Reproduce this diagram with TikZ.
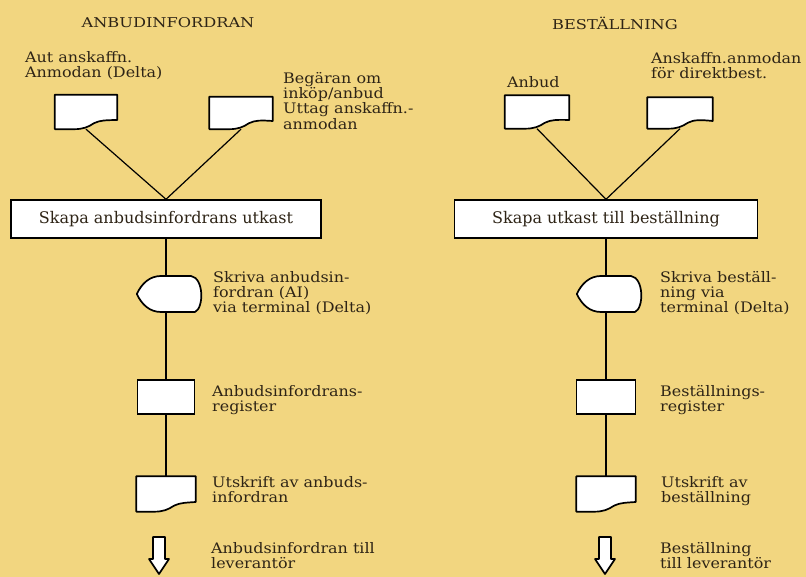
\documentclass[tikz,border=0pt]{standalone}
\usepackage{fontspec}
\setmainfont{DejaVu Serif}
\newfontfamily\lblfont[FakeStretch=1.1]{DejaVu Serif}
\newfontfamily\headfont[FakeStretch=1.2]{DejaVu Serif}
\usetikzlibrary{positioning,calc}
\definecolor{paper}{HTML}{F2D680}
\definecolor{ink}{HTML}{2E2416}

% display symbol (terminal input) round an empty node
\newcommand{\drawDisplay}[1]{%
  \draw[symLine] (#1.west) .. controls ($(#1.center)+(-24,11)$) and ($(#1.center)+(-16,18)$) .. ($(#1.center)+(-5,18)$)
    -- ($(#1.center)+(25,18)$) .. controls ($(#1.center)+(38,16)$) and ($(#1.center)+(38,-14)$) .. ($(#1.center)+(29,-18)$)
    -- ($(#1.center)+(-5,-18)$) .. controls ($(#1.center)+(-16,-18)$) and ($(#1.center)+(-24,-11)$) .. (#1.west) -- cycle;}
% document symbol with wavy foot
\newcommand{\drawDoc}[1]{%
  \draw[symLine] (#1.north west) -- (#1.north east) -- ($(#1.east)+(0,-8)$)
    .. controls ($(#1.south)+(20,9)$) and ($(#1.south)+(14,9)$) .. ($(#1.south)+(8,6)$)
    .. controls ($(#1.south)+(2,2)$) and ($(#1.south)+(-3,0)$) .. ($(#1.south)+(-12,0)$)
    -- (#1.south west) -- cycle;}
% hollow down arrow below a coordinate
\newcommand{\drawOutArrow}[1]{%
  \draw[symLine] (#1) ++(-6,0) -- ++(0,-22) -- ++(-4,0) -- ++(10,-15) -- ++(10,15) -- ++(-4,0) -- ++(0,22) -- cycle;}

\begin{document}
\begin{tikzpicture}[
    x=1pt, y=1pt,
    symLine/.style={draw=black, fill=white, line width=1.7pt, line join=round},
    docBox/.style={rectangle, minimum width=62pt, minimum height=34pt, inner sep=0pt},
    regBox/.style={rectangle, draw=black, fill=white, line width=1.7pt, minimum width=57pt, minimum height=34pt, inner sep=0pt},
    dispBox/.style={rectangle, minimum width=58pt, minimum height=36pt, inner sep=0pt},
    procBox/.style={rectangle, draw=black, fill=white, line width=1.4pt, minimum height=38pt, inner sep=0pt, text=ink, font=\fontsize{16}{18}\selectfont},
    lbl/.style={anchor=north west, align=left, inner sep=0pt, text=ink, font=\lblfont\fontsize{14.5}{15.3}\selectfont},
    heading/.style={text=ink, font=\headfont\fontsize{13.5}{15}\selectfont},
    conn/.style={draw=black, line width=1.2pt}
]
    \useasboundingbox[fill=paper] (0,0) rectangle (806,577);

    % left column: anbudsinfordran
    \node[heading] (headA) at (168,554) {ANBUDINFORDRAN};
    \node[lbl] (labA1) at (25,526) {Aut anskaffn.\\Anmodan (Delta)};
    \node[docBox] (docA1) at (86,465) {};
    \node[docBox, minimum width=63pt, minimum height=32pt] (docA2) at (241,464) {};
    \node[lbl] (labA2) at (283,505) {Begäran om\\inköp/anbud\\Uttag anskaffn.-\\anmodan};
    \node[procBox, minimum width=310pt] (procA) at (166,358) {Skapa anbudsinfordrans utkast};
    \node[dispBox] (dispA) at (166,283) {};
    \node[lbl] (labA3) at (213,306) {Skriva anbudsin-\\fordran (AI)\\via terminal (Delta)};
    \node[regBox] (regA) at (166,180) {};
    \node[lbl] (labA4) at (212,192) {Anbudsinfordrans-\\register};
    \node[docBox, minimum width=59pt, minimum height=35pt] (docA3) at (166,83) {};
    \node[lbl] (labA5) at (212,101) {Utskrift av anbuds-\\infordran};
    \coordinate (outA) at (159,40);
    \node[lbl] (labA6) at (211,35) {Anbudsinfordran till\\leverantör};

    % right column: beställning
    \node[heading] (headB) at (615,554) {BESTÄLLNING};
    \node[lbl] (labB1) at (507,501) {Anbud};
    \node[docBox, minimum width=64pt, minimum height=33pt] (docB1) at (537,465) {};
    \node[docBox, minimum width=65pt, minimum height=31pt] (docB2) at (680,464) {};
    \node[lbl] (labB2) at (651,525) {Anskaffn.anmodan\\för direktbest.};
    \node[procBox, minimum width=303pt] (procB) at (606,358) {Skapa utkast till beställning};
    \node[dispBox] (dispB) at (606,283) {};
    \node[lbl] (labB3) at (660,306) {Skriva beställ-\\ning via\\terminal (Delta)};
    \node[regBox, minimum width=59pt] (regB) at (606,180) {};
    \node[lbl] (labB4) at (660,192) {Beställnings-\\register};
    \node[docBox, minimum width=59pt, minimum height=35pt] (docB3) at (606,83) {};
    \node[lbl] (labB5) at (661,101) {Utskrift av\\beställning};
    \coordinate (outB) at (605,40);
    \node[lbl] (labB6) at (660,35) {Beställning\\till leverantör};

    % connectors
    \draw[conn] (docA1.south) -- (procA.north);
    \draw[conn] (docA2.south) -- (procA.north);
    \draw[conn] (procA.south) -- (dispA.north);
    \draw[conn] (dispA.south) -- (regA.north);
    \draw[conn] (regA.south) -- (docA3.north);
    \draw[conn] (docB1.south) -- (procB.north);
    \draw[conn] (docB2.south) -- (procB.north);
    \draw[conn] (procB.south) -- (dispB.north);
    \draw[conn] (dispB.south) -- (regB.north);
    \draw[conn] (regB.south) -- (docB3.north);

    % symbols
    \drawDoc{docA1}
    \drawDoc{docA2}
    \drawDoc{docA3}
    \drawDoc{docB1}
    \drawDoc{docB2}
    \drawDoc{docB3}
    \drawDisplay{dispA}
    \drawDisplay{dispB}
    \drawOutArrow{outA}
    \drawOutArrow{outB}
\end{tikzpicture}
\end{document}
